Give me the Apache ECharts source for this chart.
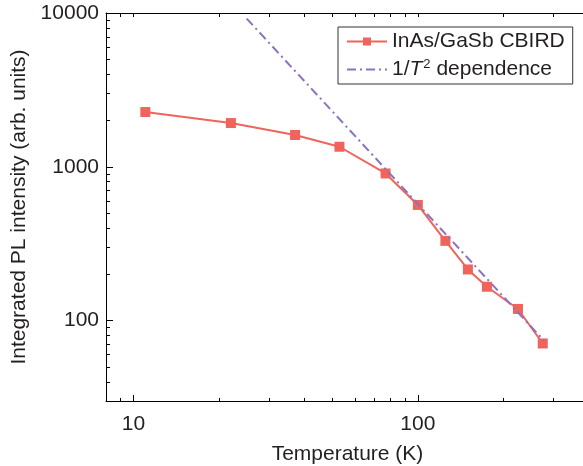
<!DOCTYPE html>
<html>
<head>
<meta charset="utf-8">
<script src="https://cdn.jsdelivr.net/npm/echarts@6/dist/echarts.min.js"></script>
<style>html,body{margin:0;padding:0;background:#fff;}#c{width:583px;height:466px;}</style>
</head>
<body>
<div id="c"></div>
<script>
// Data
var temperatures = [11, 22, 37, 53, 77, 100, 125, 150, 175, 225, 275];
var intensity = [2270, 1925, 1610, 1350, 905, 565, 330, 215, 166, 119, 71];
var fitTemps = [25, 278];
var fitIntensity = [9200, 74];
var xMajorTicks = [10, 100];
var xMinorTicks = [8, 9, 20, 30, 40, 50, 60, 70, 80, 90, 200, 300, 400];
var yMajorTicks = [100, 1000, 10000];
var yMinorTicks = [30, 40, 50, 60, 70, 80, 90, 200, 300, 400, 500, 600, 700, 800, 900,
                   2000, 3000, 4000, 5000, 6000, 7000, 8000, 9000];
var seriesNames = ['InAs/GaSb CBIRD', '1/T^2 dependence'];

var FONT = 'Liberation Sans, Arial, Helvetica, sans-serif';
var TXT = '#231f20';
var RED = '#f0645c';
var PURPLE = '#8a72c0';

function pair(a, b) { return a.map(function (v, i) { return [v, b[i]]; }); }
function plain(v) { return String(Math.round(v)); }

function xAx(opts) {
  return Object.assign({
    type: 'log', logBase: 10, min: 8, max: 400, position: 'bottom',
    axisLine: { show: false, lineStyle: { color: '#000', width: 1 } },
    axisTick: { show: false },
    axisLabel: { show: false },
    splitLine: { show: false }
  }, opts);
}
function yAx(opts) {
  return Object.assign({
    type: 'log', logBase: 10, min: 30, max: 10000, position: 'left',
    axisLine: { show: false, lineStyle: { color: '#000', width: 1 } },
    axisTick: { show: false },
    axisLabel: { show: false },
    splitLine: { show: false }
  }, opts);
}

var chart = echarts.init(document.getElementById('c'), null, { renderer: 'canvas' });
chart.setOption({
  animation: false,
  backgroundColor: '#fff',
  textStyle: { fontFamily: FONT },
  grid: { left: 106, width: 483, top: 13, height: 388, containLabel: false, outerBoundsMode: 'none' },
  xAxis: [
    xAx({
      axisLine: { show: true, onZero: false, lineStyle: { color: '#000', width: 1 } },
      axisTick: { show: true, inside: true, length: 6, customValues: xMajorTicks, lineStyle: { color: '#000' } },
      axisLabel: { show: true, customValues: xMajorTicks, formatter: plain, color: TXT, fontSize: 21, fontFamily: FONT, margin: 13 },
      name: 'Temperature (K)', nameLocation: 'middle', nameGap: 43,
      nameTextStyle: { color: TXT, fontSize: 21, fontFamily: FONT }
    }),
    xAx({
      axisTick: { show: true, inside: true, length: 3, customValues: xMinorTicks, lineStyle: { color: '#000' } }
    }),
    xAx({
      position: 'top',
      axisLine: { show: true, onZero: false, lineStyle: { color: '#000', width: 1 } },
      axisTick: { show: true, inside: true, length: 4, customValues: xMinorTicks.concat(xMajorTicks), lineStyle: { color: '#000' } }
    })
  ],
  yAxis: [
    yAx({
      axisLine: { show: true, onZero: false, lineStyle: { color: '#000', width: 1 } },
      axisTick: { show: true, inside: true, length: 7, customValues: yMajorTicks, lineStyle: { color: '#000' } },
      axisLabel: { show: true, customValues: yMajorTicks, formatter: plain, color: TXT, fontSize: 21, fontFamily: FONT, margin: 7 },
      name: 'Integrated PL intensity (arb. units)', nameLocation: 'middle', nameGap: 76, nameRotate: 90,
      nameTextStyle: { color: TXT, fontSize: 21, fontFamily: FONT }
    }),
    yAx({
      axisTick: { show: true, inside: true, length: 4, customValues: yMinorTicks, lineStyle: { color: '#000' } }
    }),
    yAx({
      position: 'right',
      axisLine: { show: true, onZero: false, lineStyle: { color: '#000', width: 1 } },
      axisTick: { show: true, inside: true, length: 6, customValues: yMajorTicks, lineStyle: { color: '#000' } }
    })
  ],
  legend: {
    left: 338, top: 27,
    orient: 'vertical',
    backgroundColor: '#fff',
    borderColor: '#333', borderWidth: 1,
    padding: [4, 8, 4, 8],
    itemGap: 6,
    itemWidth: 40, itemHeight: 10,
    data: [
      { name: seriesNames[0] },
      { name: seriesNames[1], itemStyle: { opacity: 0 } }
    ],
    formatter: function (name) {
      if (name === seriesNames[1]) return '1/{i|T}{sup|2} dependence';
      return name;
    },
    textStyle: {
      color: TXT, fontSize: 21, fontFamily: FONT,
      rich: {
        i: { fontStyle: 'italic', fontSize: 21, fontFamily: FONT, color: TXT },
        sup: { fontSize: 13, fontFamily: FONT, color: TXT, verticalAlign: 'top', padding: [0, 0, 10, 1] }
      }
    }
  },
  series: [
    {
      name: seriesNames[0], type: 'line', xAxisIndex: 0, yAxisIndex: 0,
      data: pair(temperatures, intensity),
      symbol: 'rect', symbolSize: 10, showSymbol: true,
      lineStyle: { color: RED, width: 2 },
      itemStyle: { color: RED },
      z: 3
    },
    {
      name: seriesNames[1], type: 'line', xAxisIndex: 0, yAxisIndex: 0,
      data: pair(fitTemps, fitIntensity),
      symbol: 'none', showSymbol: false,
      lineStyle: { color: PURPLE, width: 2, type: [9, 4, 2, 4] },
      itemStyle: { color: PURPLE },
      clip: true,
      z: 4
    }
  ]
});
</script>
</body>
</html>
